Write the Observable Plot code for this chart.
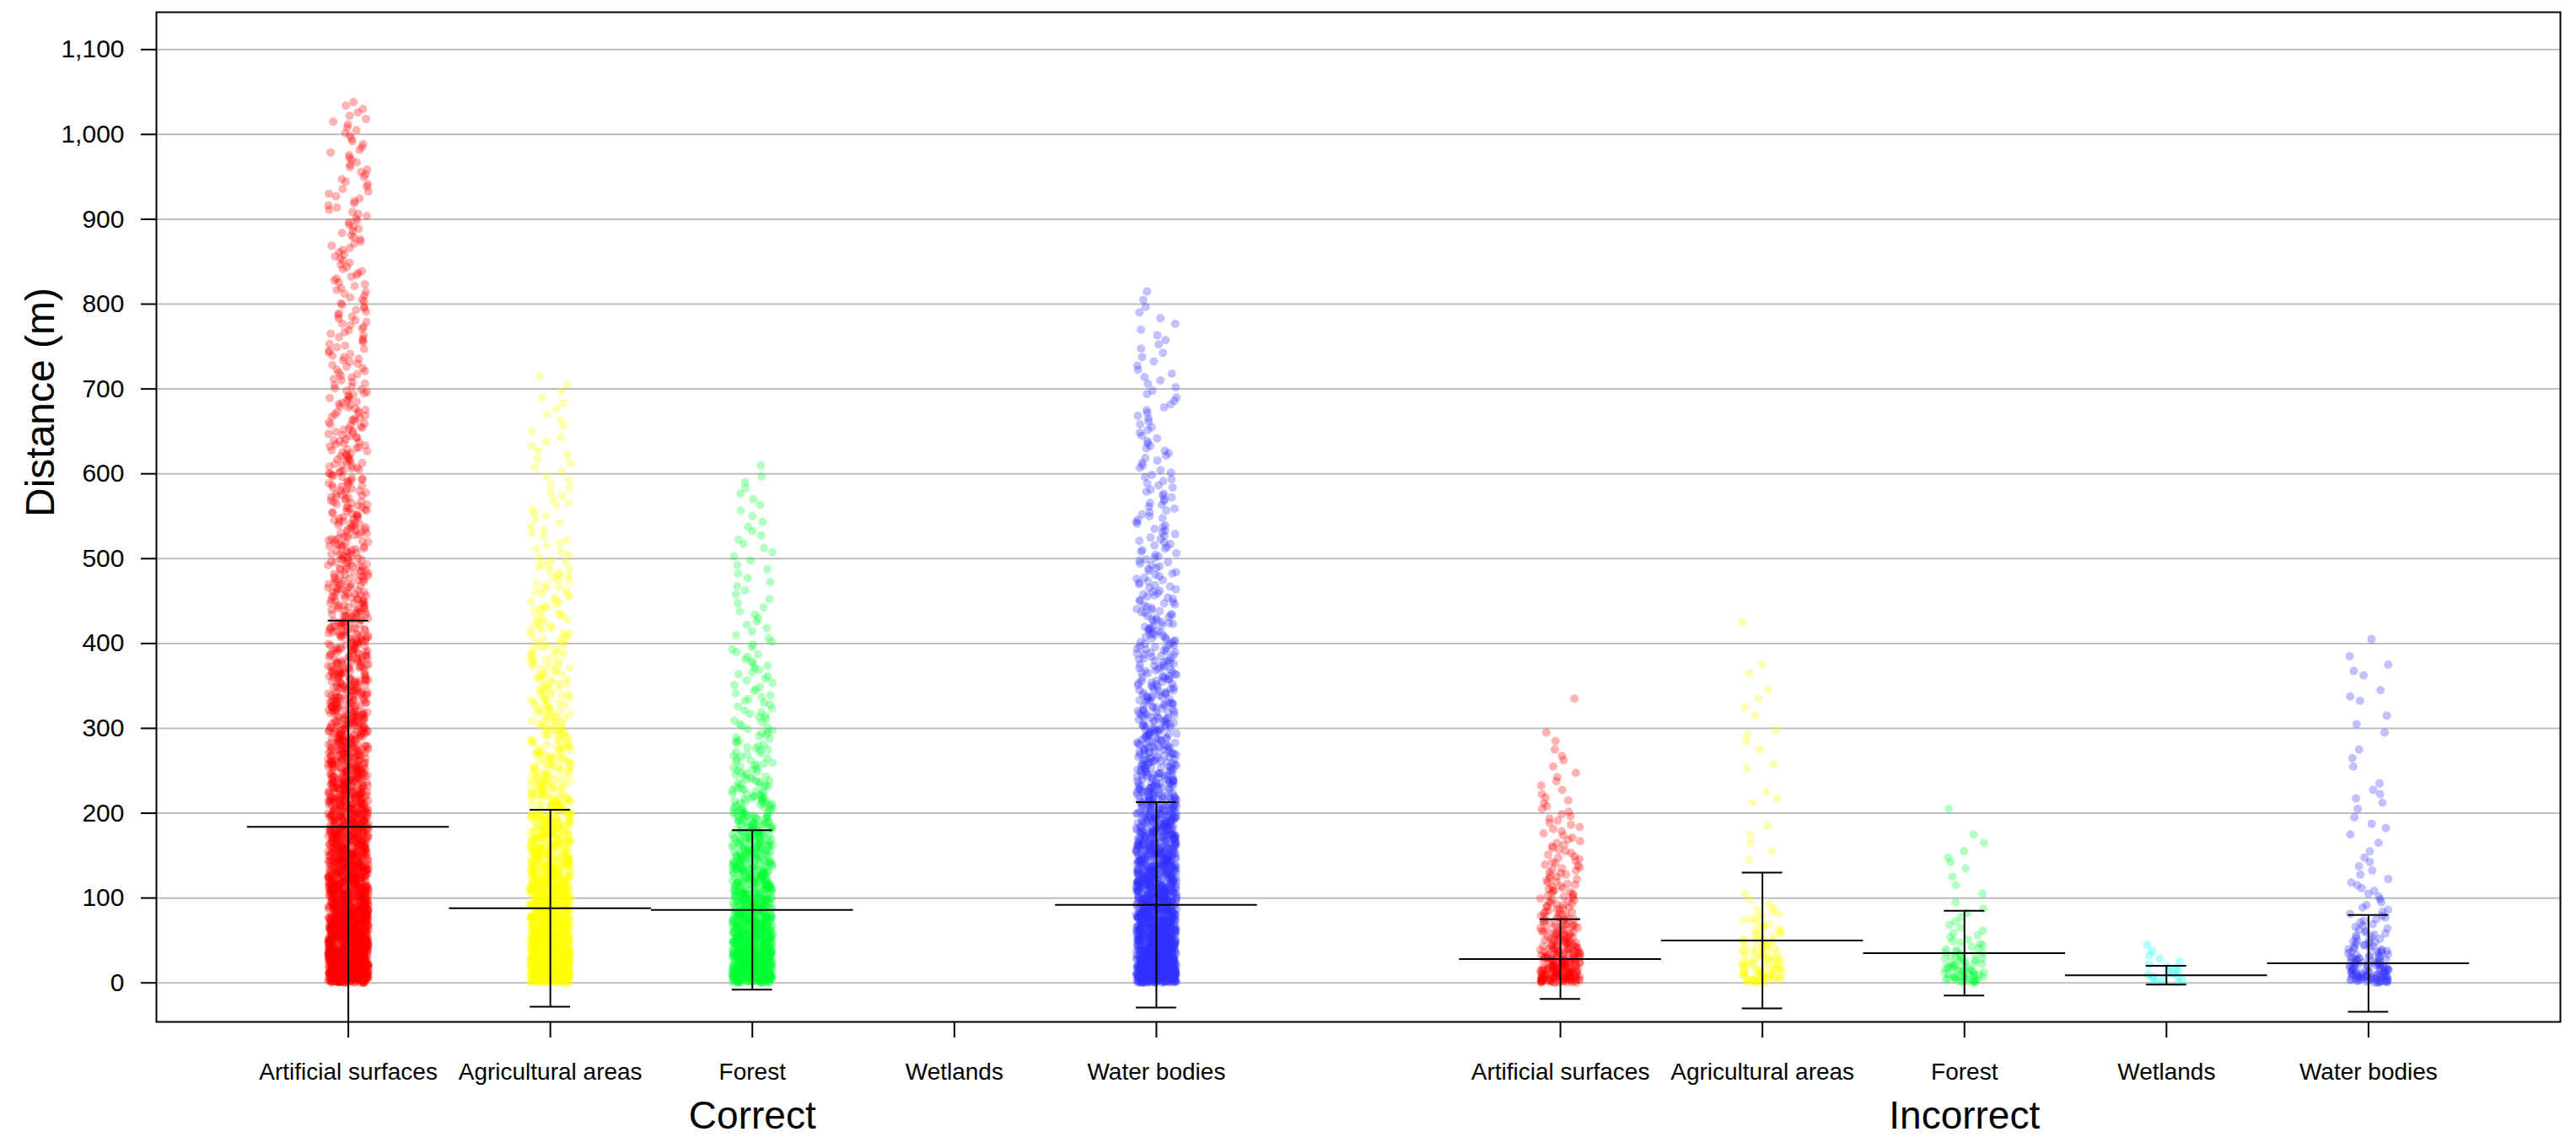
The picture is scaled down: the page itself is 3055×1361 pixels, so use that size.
<!DOCTYPE html>
<html>
<head>
<meta charset="utf-8">
<script src="https://cdn.jsdelivr.net/npm/d3@7"></script>
<script src="https://cdn.jsdelivr.net/npm/@observablehq/plot@0.6"></script>
<style>
  html, body { margin: 0; padding: 0; background: #fff; }
  #chart svg { display: block; }
</style>
</head>
<body>
<div id="chart"></div>
<script>
// ---------- data ----------
const categories = ["Artificial surfaces", "Agricultural areas", "Forest", "Wetlands", "Water bodies"];
const groupNames = ["Correct", "Incorrect"];
const categoryColors = ["#FF0000", "#FFFF00", "#00FF33", "#00FFFF", "#3333FF"];
const yTicks = [0, 100, 200, 300, 400, 500, 600, 700, 800, 900, 1000, 1100];

// mean and standard deviation (m) of each class (null = no observations)
const meanCorrect   = [184, 88, 86, null, 92];
const sdCorrect     = [243, 116, 94, null, 121];
const meanIncorrect = [28, 50, 35, 9, 23];
const sdIncorrect   = [47, 80, 50, 11, 57];

const binWidthCorrect = 20;   // m
const binWidthIncorrect = 10; // m
const correctArtificial = [260,220,190,165,145, 130,118,106,96,88, 80,73,66,60,55, 50,46,42,39,36,
  34,31,29,27,25, 24,22,21,20,19, 18,17,16,15,14, 11,11,10,10,10, 9,9,8,8,8, 8,7,7,7,6, 6,5];
const correctAgricultural = [200,170,145,125,110, 95,82,72,63,56, 40,32,28,25,22, 20,18,16,15,14,
  13,12,11,10,9, 6,5,5,5,4, 4,4,3,3,3,2];
const correctForest = [180,150,125,105,90, 75,64,55,48,42, 30,22,17,14,12, 10,9,8,8,7,
  5,5,4,4,4, 4,4,3,3,3,1];
const correctWetlands = [];
const correctWater = [260,220,185,160,140, 120,105,92,80,70, 55,45,40,36,33, 30,27,25,23,21,
  19,17,15,13,12, 11,10,9,9,8, 7,7,6,6,5, 5,4,4,3,3,2];
const incorrectArtificial = [60,45,35,28,22,18,15,13,11,10, 9,8,7,7,6,5,5,4,4,4,
  3,3,2,2,2,1,2,1,1,1, 0,0,0,1];
const incorrectAgricultural = [25,18,14,11,9,7,6,5,4,2, 1,0,0,0,1,1,1,1,1,0,
  0,2,1,0,0,2,0,1,1,2, 0,1,1,1,1,0,1,1,0,0, 0,0,1];
const incorrectForest = [22,16,12,9,6,4,3,2,2,1, 1,1,1,1,2,1,1,1,0,0, 1];
const incorrectWetlands = [8,5,3,2,1];
const incorrectWater = [40,28,20,15,11,8,6,5,4,3, 3,3,2,2,2,1,1,1,2,1,
  1,2,2,1,0,1,1,1,0,1, 1,1,0,2,1,0,2,1,1,0, 1];

// ---------- build tables ----------
const countsCorrect = [correctArtificial, correctAgricultural, correctForest, correctWetlands, correctWater];
const countsIncorrect = [incorrectArtificial, incorrectAgricultural, incorrectForest, incorrectWetlands, incorrectWater];
const frac = v => v - Math.floor(v);
// deterministic horizontal jitter (layout only, not data)
const jitterOf = (i, c) => frac(Math.sin(i * 12.9898 + c * 78.233 + 1.7) * 43758.5453) - 0.5;

const slotOf = (g, c) => g * (categories.length + 1) + c; // gap of one slot between groups
const points = [];
const stats = [];
[countsCorrect, countsIncorrect].forEach((groupCounts, g) => {
  const bw = g === 0 ? binWidthCorrect : binWidthIncorrect;
  groupCounts.forEach((counts, c) => {
    let i = 0;
    counts.forEach((n, b) => {
      for (let k = 0; k < n; k++, i++) {
        // points spread evenly through their bin
        points.push({
          slot: slotOf(g, c),
          jitter: jitterOf(i, slotOf(g, c)),
          value: b * bw + (k + 0.5) / n * bw,
          color: categoryColors[c]
        });
      }
    });
  });
});
[[meanCorrect, sdCorrect], [meanIncorrect, sdIncorrect]].forEach(([m, s], g) => {
  m.forEach((mean, c) => {
    if (mean != null) stats.push({slot: slotOf(g, c), mean, sd: s[c]});
  });
});
const tickSlots = [];
groupNames.forEach((_, g) => categories.forEach((_, c) => tickSlots.push(slotOf(g, c))));
const groupLabels = groupNames.map((name, g) => ({name, slot: slotOf(g, 2)}));

// ---------- plot ----------
const jitterWidth = 0.2, capHalf = 0.1, meanHalf = 0.5;
const chart = Plot.plot({
  width: 3055,
  height: 1361,
  marginTop: 14,
  marginBottom: 150,
  marginLeft: 185,
  marginRight: 19,
  style: {fontFamily: "'Liberation Sans', Arial, sans-serif", background: "#fff", color: "#000"},
  x: {type: "linear", domain: [-0.95, 10.95]},
  y: {domain: [-46, 1144]},
  marks: [
    Plot.gridY(yTicks, {stroke: "#bdbdbd", strokeOpacity: 1, strokeWidth: 2}),
    Plot.dot(points, {
      x: d => d.slot + d.jitter * jitterWidth,
      y: "value",
      r: 5,
      fill: d => d.color,
      fillOpacity: 0.3,
      stroke: null
    }),
    Plot.ruleX(stats, {x: "slot", y1: d => d.mean - d.sd, y2: d => d.mean + d.sd, stroke: "#000", strokeWidth: 2, clip: true}),
    Plot.ruleY(stats, {y: d => d.mean + d.sd, x1: d => d.slot - capHalf, x2: d => d.slot + capHalf, stroke: "#000", strokeWidth: 2, clip: true}),
    Plot.ruleY(stats, {y: d => d.mean - d.sd, x1: d => d.slot - capHalf, x2: d => d.slot + capHalf, stroke: "#000", strokeWidth: 2, clip: true}),
    Plot.ruleY(stats, {y: "mean", x1: d => d.slot - meanHalf, x2: d => d.slot + meanHalf, stroke: "#000", strokeWidth: 2}),
    Plot.frame({stroke: "#000", strokeWidth: 2}),
    Plot.axisY({ticks: yTicks, tickFormat: d3.format(","), tickSize: 18, tickPadding: 20, fontSize: 30, label: null, strokeWidth: 2}),
    Plot.axisX({ticks: tickSlots, tickFormat: d => categories[d % (categories.length + 1)], tickSize: 19, tickPadding: 30, fontSize: 28, label: null, strokeWidth: 2}),
    Plot.text(groupLabels, {x: "slot", text: "name", frameAnchor: "bottom", dy: 126, fontSize: 46}),
    Plot.text(["Distance (m)"], {frameAnchor: "left", dx: -137, rotate: -90, fontSize: 48})
  ]
});
document.getElementById("chart").appendChild(chart);
</script>
</body>
</html>
